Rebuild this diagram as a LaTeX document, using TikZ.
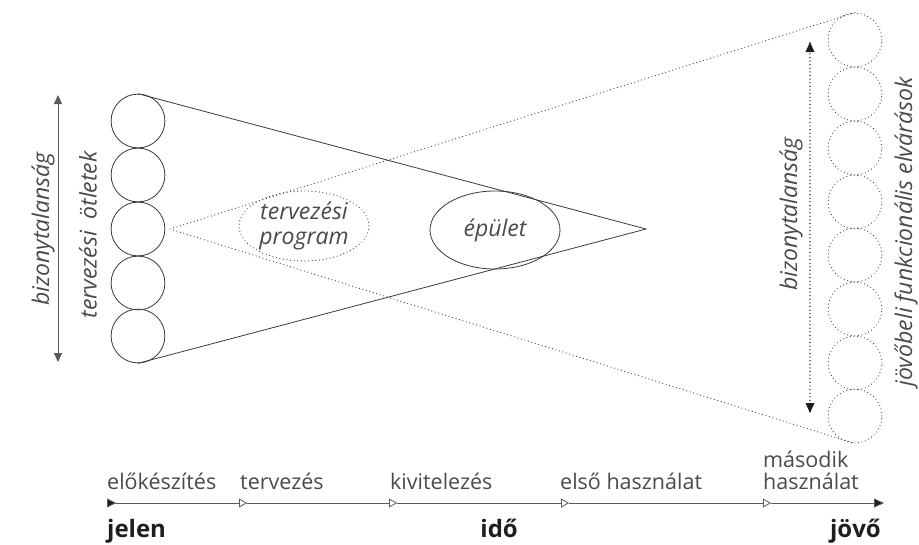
\documentclass[tikz,border=0pt]{standalone}
\usepackage{fontspec}
\setmainfont{Open Sans}
\usetikzlibrary{arrows.meta,shapes.geometric}
\definecolor{ink}{HTML}{3A3A3A}
\definecolor{txt}{HTML}{4A4A4A}
\definecolor{bold}{HTML}{1E1E1E}
\definecolor{axis}{HTML}{5A5A5A}
\begin{document}
\begin{tikzpicture}[x=1pt,y=-1pt,
  ln/.style={draw=ink, line width=0.8pt},
  dots/.style={draw=ink, line width=1.2pt, dash pattern=on 0.01pt off 3.6pt, line cap=round},
  idea/.style={circle, ln, minimum size=53.8pt, inner sep=0pt},
  need/.style={circle, dots, minimum size=53.8pt, inner sep=0pt},
  lbl/.style={font=\fontsize{21.5}{24}\selectfont, text=txt, inner sep=0pt},
  ilbl/.style={font=\fontsize{23}{25}\selectfont\itshape, text=txt, inner sep=0pt},
  blbl/.style={font=\fontsize{24}{26}\selectfont\bfseries, text=bold, inner sep=0pt},
  otip/.style={-{Triangle[open,length=8pt,width=9pt]}}]
\useasboundingbox (0,0) rectangle (919,544);

% design ideas on the left
\foreach \i/\y in {1/121,2/175,3/229,4/283,5/336}
  \node[idea] (c\i) at (138,\y) {};

% future functional demands on the right
\foreach \i/\y in {1/40,2/94,3/148,4/202,5/255,6/309,7/363,8/416}
  \node[need] (f\i) at (855,\y) {};

% building and design program
\node[ellipse, ln, minimum width=130pt, minimum height=78pt, inner sep=0pt, ilbl] (bld) at (495,230) {épület};
\node[ellipse, dots, minimum width=130pt, minimum height=70pt, inner sep=0pt, ilbl, align=center] (prg) at (304,226) {tervezési\\program};

% solid cone
\coordinate (apex) at (646,229);
\draw[ln] (c1.north) -- (apex) -- (c5.south);

% dotted cone
\coordinate (src) at (170,229);
\draw[dots] (f1.north) -- (src) -- (f8.south);

% uncertainty arrows
\coordinate (ua) at (58,95);
\coordinate (ub) at (58,362);
\draw[draw=axis, line width=0.9pt, {Triangle[length=9pt,width=8pt]}-{Triangle[length=9pt,width=8pt]}] (ua) -- (ub);
\coordinate (va) at (810,43);
\coordinate (vb) at (810,412);
\draw[dots] (va) -- (vb);
\fill[bold] (va) ++(0,-1) -- ++(-4.5,10) -- ++(9,0) -- cycle;
\fill[bold] (vb) ++(0,1) -- ++(-4.5,-10) -- ++(9,0) -- cycle;

% vertical labels
\node[ilbl, rotate=90] (u1) at (43,229) {bizonytalanság};
\node[ilbl, rotate=90] (ti) at (88,235) {tervezési\hspace{0.5em}ötletek};
\node[ilbl, rotate=90] (u2) at (791,214) {bizonytalanság};
\node[ilbl, rotate=90] (fd) at (906,232) {jövőbeli funkcionális elvárások};

% time axis
\coordinate (t0) at (107,503);
\coordinate (t1) at (247,503);
\coordinate (t2) at (397,503);
\coordinate (t3) at (569,503);
\coordinate (t4) at (771,503);
\coordinate (t5) at (884,503);
\draw[draw=axis, line width=0.8pt, {Triangle[reversed,length=9pt,width=9pt,fill=bold]}-{Triangle[open,length=8pt,width=9pt]}] (t0) -- (t1);
\draw[draw=axis, line width=0.8pt, otip] (t1) -- (t2);
\draw[draw=axis, line width=0.8pt, otip] (t2) -- (t3);
\draw[draw=axis, line width=0.8pt, otip] (t3) -- (t4);
\draw[draw=axis, line width=0.8pt, -{Triangle[length=10pt,width=9pt,fill=bold]}] (t4) -- (t5);

% phase labels
\node[lbl, anchor=base west] (p1) at (107,489) {előkészítés};
\node[lbl, anchor=base west] (p2) at (240,489) {tervezés};
\node[lbl, anchor=base west] (p3) at (390,489) {kivitelezés};
\node[lbl, anchor=base west] (p4) at (560,489) {első használat};
\node[lbl, anchor=base west] (p5) at (763,489) {használat};
\node[lbl, anchor=base west] (p6) at (763,467) {második};

% axis labels
\node[blbl, anchor=base west] (now) at (107,537) {jelen};
\node[blbl, anchor=base east] (time) at (518,537) {idő};
\node[blbl, anchor=base east] (fut) at (881,537) {jövő};
\end{tikzpicture}
\end{document}
